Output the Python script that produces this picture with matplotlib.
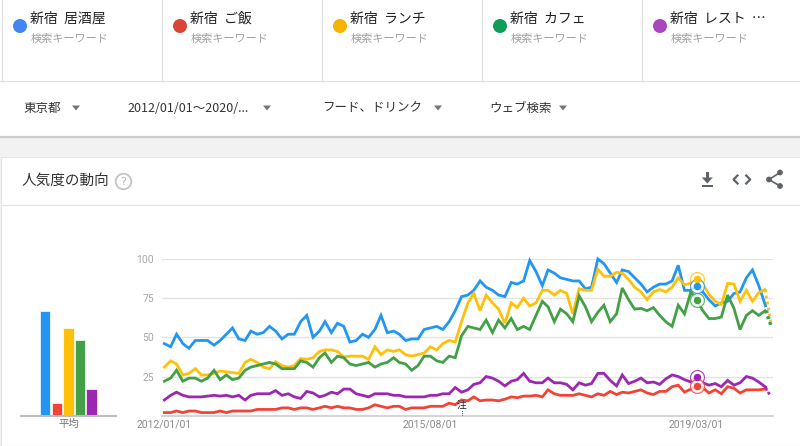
import matplotlib
matplotlib.use('Agg')
import matplotlib.pyplot as plt
from matplotlib.patches import Rectangle, Circle, Polygon
import pandas as pd

plt.rcParams['font.family'] = ['Noto Sans CJK JP', 'DejaVu Sans']

# ---------------- data ----------------
dates = pd.date_range('2012-01-01', periods=99, freq='MS')

izakaya = [46, 44, 52, 46, 43, 48, 48, 48, 45, 48,
           52, 56, 49, 48, 54, 52, 53, 57, 54, 49,
           52, 52, 60, 64, 50, 54, 60, 53, 59, 57,
           47, 48, 52, 50, 55, 64, 53, 54, 52, 48,
           49, 49, 55, 56, 57, 55, 60, 67, 76, 77,
           80, 86, 82, 80, 77, 76, 85, 84, 86, 99,
           92, 83, 93, 91, 88, 87, 86, 86, 81, 82,
           100, 97, 91, 85, 93, 92, 88, 84, 79, 82,
           84, 84, 86, 96, 80, 80, 83, 79, 74, 70,
           72, 73, 78, 79, 88, 93, 83, 71, 58]

gohan = [2, 2, 3, 2, 3, 3, 2, 2, 2, 3,
         2, 3, 3, 3, 3, 4, 4, 4, 4, 5,
         5, 4, 5, 5, 4, 5, 6, 5, 6, 5,
         5, 4, 4, 5, 7, 6, 5, 6, 6, 4,
         5, 5, 5, 6, 6, 6, 8, 7, 10, 9.5,
         12, 9.5, 10, 10, 9.5, 10.5, 12, 11.5, 12.5, 12.5,
         13, 12, 16.5, 14, 13, 13, 13, 14, 13, 12,
         14, 13, 15.5, 13.5, 15, 14.5, 15.5, 16.5, 14.5, 13.5,
         15.5, 15.5, 18.5, 19.5, 15, 17, 19, 18, 14.5, 16.5,
         14, 18.5, 17.5, 14.5, 16.5, 16.5, 16.5, 17, 16]

lunch = [31, 35, 33, 26, 27, 30, 26, 26, 27, 28.5,
         28, 27.5, 27, 34, 36, 34, 31, 30, 34.5, 32,
         31, 32, 36.5, 36, 37, 41, 42, 42, 41, 37.5,
         38, 38, 38, 36, 44, 39, 42, 41, 42, 39,
         38, 39, 40, 44, 42, 46, 48, 47, 60, 72,
         78, 67, 77, 72, 68, 59, 72, 69, 75, 70,
         72, 80, 80, 77, 80, 78, 65, 81, 80, 80,
         93.5, 89, 89, 91.5, 91, 87, 82, 79, 74, 79,
         80.5, 79, 82, 88, 83.5, 84.5, 87, 84, 77.5, 73,
         71, 84.5, 84, 73, 80, 73, 78.5, 80.5, 59]

cafe = [22, 24, 29, 22, 24, 24, 22, 24, 29, 23,
        26, 23, 24, 29, 31, 32, 33, 34, 33, 30,
        30, 30, 35, 34, 31, 37, 40, 34, 38, 37,
        33, 32, 33, 34, 31, 33, 34, 37, 34, 33,
        29, 32, 38, 38, 35, 34, 38, 37, 51, 57,
        56, 55, 61, 53, 61, 56, 62, 55, 57, 55,
        64, 73, 69.5, 60, 68, 65, 60, 76.5, 69.5, 60,
        66, 70.5, 60, 65, 81.5, 74, 68, 68.5, 67, 69,
        64, 60, 57, 70.5, 65, 79, 74, 67, 62, 62,
        63, 77, 68.5, 55, 64, 67, 64, 67, 57]

restaurant = [10, 13, 15, 13, 12, 12, 12, 12.5, 13, 12.5,
              13, 12, 13, 10, 13, 14, 14, 14, 16, 13,
              14, 12, 11, 15.5, 14.5, 12, 13, 15, 14, 17,
              17, 14, 13, 12, 14, 14, 14, 13, 13, 12,
              12, 12, 12, 13, 13, 14, 14, 18, 15, 16.5,
              20, 21, 25, 24, 22, 19, 22, 23, 27, 22,
              21, 21, 24, 21, 21, 20, 16.5, 21, 19.5, 20.5,
              27, 27, 22.5, 19, 26, 20.5, 22, 24, 21, 21.5,
              20, 23.5, 26, 25, 23, 21.5, 25, 21, 19.5, 20.5,
              18.5, 22.5, 19.5, 21, 25, 24, 21.5, 18.5, 12]

averages = [67, 8, 56, 48, 17]
keywords = ['新宿  居酒屋', '新宿  ご飯', '新宿  ランチ', '新宿  カフェ', '新宿  レスト  …']
sublabel = '検索キーワード'
filters = ['東京都', '2012/01/01～2020/...', 'フード、ドリンク', 'ウェブ検索']
title = '人気度の動向'
avg_label = '平均'
note_label = '注'
yticks = [25, 50, 75, 100]
xtick_dates = ['2012-01-01', '2015-08-01', '2019-03-01']
hover_index = 86
note_index = 48

series = [izakaya, gohan, lunch, cafe, restaurant]
line_colors = ['#2196F3', '#F44336', '#FFC107', '#43A047', '#9C27B0']
dot_colors = ['#4285F4', '#DB4437', '#F4B400', '#0F9D58', '#AB47BC']

# ---------------- figure ----------------
W, H = 800, 446
fig = plt.figure(figsize=(8, 4.46), dpi=100)
fig.patch.set_facecolor('#f2f2f2')

bg = fig.add_axes([0, 0, 1, 1])
bg.set_xlim(0, W)
bg.set_ylim(H, 0)
bg.axis('off')

# header (keyword cards + filter row)
bg.add_patch(Rectangle((0, 0), W, 137, facecolor='white', edgecolor='none'))
for k in range(5):
    bg.plot([160 * k + 1.5] * 2, [0, 81], color='#e0e0e0', lw=0.9)
bg.plot([0, W], [81, 81], color='#e0e0e0', lw=0.9)
bg.plot([0, W], [137, 137], color='#cccccc', lw=1.6)

for k, kw in enumerate(keywords):
    x0 = 160 * k
    bg.add_patch(Circle((x0 + 20, 26), 7, facecolor=dot_colors[k], edgecolor='none'))
    bg.text(x0 + 30.5, 18.5, kw, fontsize=10, color='#202124', va='center', ha='left')
    bg.text(x0 + 30.5, 39, sublabel, fontsize=8, color='#a0a0a0', va='center', ha='left')

filter_x = [23, 127, 322, 489]
tri_x = [76, 267, 438, 563]
for fx, tx, lab in zip(filter_x, tri_x, filters):
    bg.text(fx, 108, lab, fontsize=9, color='#333333', va='center', ha='left')
    bg.add_patch(Polygon([(tx - 4, 105.5), (tx + 4, 105.5), (tx, 110.5)],
                         closed=True, facecolor='#757575', edgecolor='none'))

# chart card
bg.add_patch(Rectangle((1, 157), W, H - 157, facecolor='white', edgecolor='#e4e4e4', lw=0.8))
bg.plot([1, W], [204.5, 204.5], color='#e4e4e4', lw=0.9)
bg.text(22, 181, title, fontsize=10.5, color='#333333', va='center', ha='left')
bg.add_patch(Circle((123.5, 181.5), 7.8, fill=False, edgecolor='#c4c4c4', lw=1.3))
bg.text(123.5, 181.8, '?', fontsize=8, color='#b8b8b8', va='center', ha='center',
        family='DejaVu Sans')

icon = '#5f6368'
# download icon
bg.add_patch(Rectangle((705.5, 171.5), 3.6, 6.5, facecolor=icon, edgecolor='none'))
bg.add_patch(Polygon([(701.8, 177.5), (712.8, 177.5), (707.3, 183.5)], closed=True,
                     facecolor=icon, edgecolor='none'))
bg.add_patch(Rectangle((701.8, 185), 11.2, 1.7, facecolor=icon, edgecolor='none'))
# code icon
bg.plot([737.5, 733.5, 737.5], [175.5, 179.5, 183.5], color=icon, lw=1.6)
bg.plot([746.2, 750.2, 746.2], [175.5, 179.5, 183.5], color=icon, lw=1.6)
# share icon
bg.plot([780, 769, 780], [172.5, 179.5, 186], color=icon, lw=1.2)
for cx, cy in [(780, 172.5), (769, 179.5), (780, 186)]:
    bg.add_patch(Circle((cx, cy), 2.9, facecolor=icon, edgecolor='none'))

# ---------------- average bar chart ----------------
y0px, y100px = 415.7, 259.0
axb = fig.add_axes([21 / W, (H - y0px) / H, 94.7 / W, (y0px - y100px) / H])
axb.patch.set_alpha(0)
axb.bar(range(len(averages)), averages, width=0.9, color=line_colors,
        edgecolor='white', linewidth=0.5)
axb.set_xlim(-2.09, 6.08)
axb.set_ylim(0, 100)
for s in ['top', 'right', 'left']:
    axb.spines[s].set_visible(False)
axb.spines['bottom'].set_color('#bdbdbd')
axb.spines['bottom'].set_linewidth(1.5)
axb.set_yticks([])
axb.set_xticks([2])
axb.set_xticklabels([avg_label], fontsize=7.5, color='#757575')
axb.tick_params(axis='x', length=0, pad=2)

# ---------------- main line chart ----------------
ax = fig.add_axes([161.7 / W, (H - y0px) / H, (773 - 161.7) / W, (y0px - y100px) / H])
ax.patch.set_alpha(0)
ax.set_xlim(dates[0] - pd.Timedelta(days=13), dates[-1] + pd.Timedelta(days=10))
ax.set_ylim(0, 100)
for yv in yticks:
    ax.axhline(yv, color='#e3e3e3', lw=1.0, zorder=0)
for s in ['top', 'right', 'left']:
    ax.spines[s].set_visible(False)
ax.spines['bottom'].set_color('#cccccc')
ax.spines['bottom'].set_linewidth(1.2)

order = [4, 1, 3, 2, 0]
for k in order:
    vals = series[k]
    c = line_colors[k]
    ax.plot(dates[:-1], vals[:-1], color=c, lw=2.0, solid_joinstyle='miter',
            clip_on=False, zorder=3 + k * 0.1)
    ax.plot(dates[-2:], vals[-2:], color=c, lw=2.0, linestyle=(0, (1, 1.2)),
            clip_on=False, zorder=3 + k * 0.1)

# hover markers
for k in order:
    d = dates[hover_index]
    v = series[k][hover_index]
    c = line_colors[k]
    ax.plot([d], [v], 'o', ms=10, mfc='white', mec=c, mew=0.9, alpha=0.8,
            clip_on=False, zorder=6)
    ax.plot([d], [v], 'o', ms=5.4, mfc=c, mec=c, mew=0, clip_on=False, zorder=7)

# note marker
ax.text(dates[note_index], 6.8, note_label, fontsize=7, color='#222222',
        ha='center', va='center', zorder=8)
ax.plot([dates[note_index]] * 2, [0, 3.6], color='#555555', lw=0.8,
        linestyle=(0, (1, 1)), zorder=8)

ax.set_yticks(yticks)
ax.set_yticklabels([str(t) for t in yticks], fontsize=7.5, color='#a8a8a8', family='Roboto')
xt = [pd.Timestamp(d) for d in xtick_dates]
ax.set_xticks(xt)
ax.set_xticklabels([t.strftime('%Y/%m/%d') for t in xt], fontsize=7.5,
                   color='#8a8a8a', family='Roboto')
ax.tick_params(axis='y', length=0, pad=5.5)
ax.tick_params(axis='x', length=0, pad=2.5)

fig.savefig('out.png', dpi=100, facecolor=fig.get_facecolor())
